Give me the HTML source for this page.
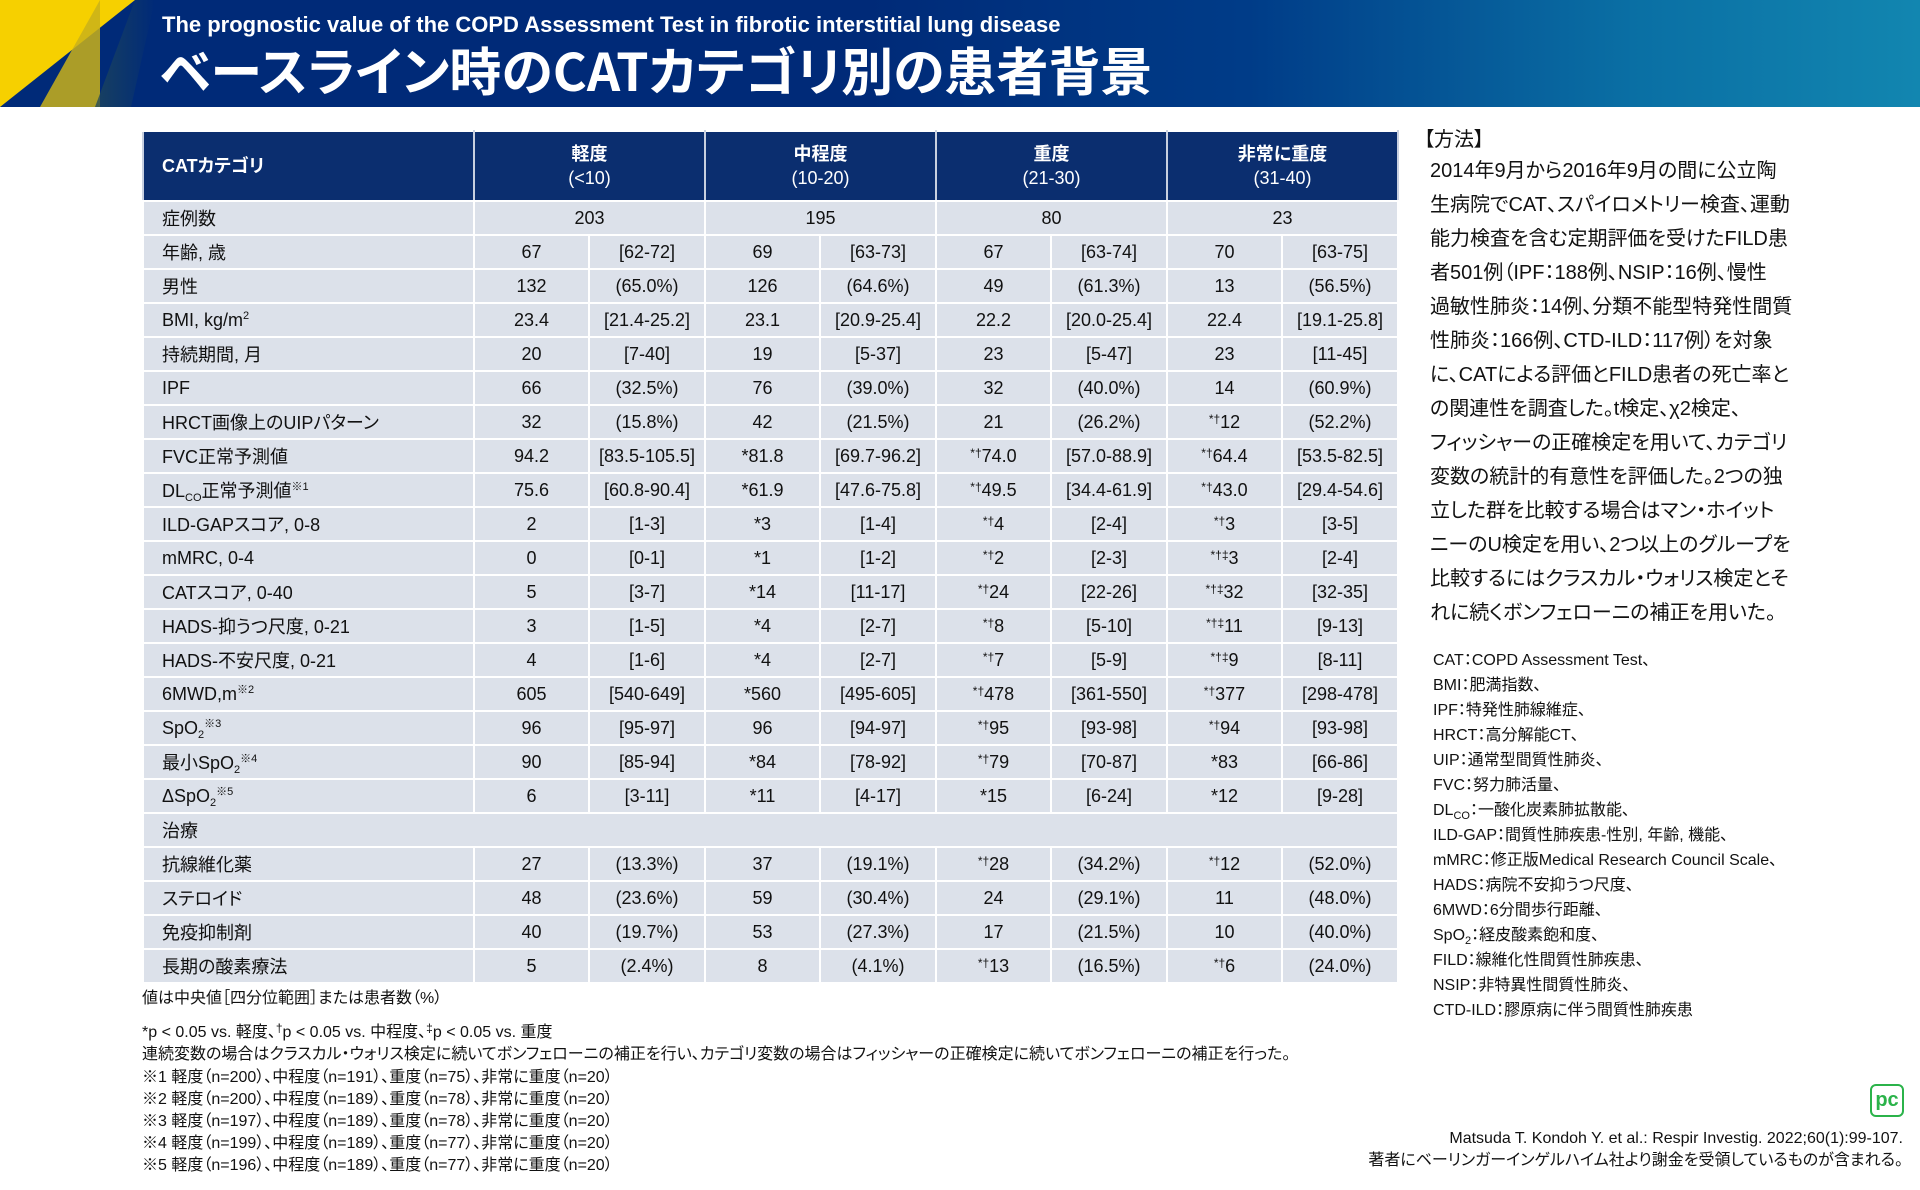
<!DOCTYPE html>
<html><head><meta charset="utf-8">
<style>
*{margin:0;padding:0;box-sizing:border-box}
body{width:1920px;height:1190px;position:relative;overflow:hidden;background:#fff;font-family:"Liberation Sans","Noto Sans CJK JP",sans-serif;color:#111;font-feature-settings:"palt"}
#hdr{position:absolute;left:0;top:0;width:1920px;height:107px;background:linear-gradient(90deg,#002a78 0%,#002a78 45%,#003c88 65%,#0a6fa4 85%,#1286b0 100%);overflow:hidden}
#hdr .y1{position:absolute;left:0;top:0;width:0;height:0;border-top:107px solid #f6d000;border-right:135px solid transparent}
#hdr .y2{position:absolute;left:40px;top:0;width:0;height:0;border-bottom:107px solid #c9b21a;border-left:60px solid transparent;opacity:.85}
#hdr .y3{position:absolute;left:95px;top:0;width:60px;height:107px;background:linear-gradient(90deg,rgba(30,70,90,.8),rgba(0,42,120,0));clip-path:polygon(40px 0,100% 0,60% 100%,0 100%)}
.t1{position:absolute;left:162px;top:12px;color:#fff;font-weight:bold;font-size:22px;white-space:nowrap}
.t2{position:absolute;left:160px;top:39px;color:#fff;font-weight:bold;font-size:52px;line-height:60px;white-space:nowrap;font-family:"Noto Sans CJK JP","Liberation Sans",sans-serif}
table{position:absolute;left:142px;top:130px;border-collapse:collapse;table-layout:fixed;width:1255px}
td,th{border:2px solid #fff;height:34px;font-size:18px;text-align:center;background:#dce1ea;white-space:nowrap;padding:0}
th{background:#0b2e6f;color:#fff;height:70px;font-weight:normal;line-height:24px;border-color:#fff #c8d0e0}
th b{font-weight:bold}
td.l,th.l{text-align:left;padding-left:18px}
td.tr{text-align:left;padding-left:18px}
.m{font-size:12px;vertical-align:5px;line-height:0}
sub{font-size:11px;vertical-align:-4px;line-height:0}
sup{font-size:11px;vertical-align:7px;line-height:0}
.fn{position:absolute;left:142px;font-size:16px;white-space:nowrap;line-height:20px}
.rp{position:absolute;left:1430px;font-size:20px;white-space:nowrap;line-height:34px}
.ab{position:absolute;left:1433px;top:648px;font-size:16px;line-height:25px;white-space:nowrap}
.cit{position:absolute;right:17px;font-size:16px;white-space:nowrap;line-height:22px;text-align:right}
.pc{position:absolute;left:1870px;top:1084px;width:34px;height:33px;border:2px solid #2bb34a;border-radius:6px;color:#2bb34a;font-weight:bold;font-size:20px;line-height:28px;text-align:center}
</style></head><body>
<div id="hdr"><div class="y1"></div><div class="y2"></div><div class="y3"></div>
<div class="t1">The prognostic value of the COPD Assessment Test in fibrotic interstitial lung disease</div>
<div class="t2">ベースライン時のCATカテゴリ別の患者背景</div></div>

<table>
<colgroup><col style="width:331px"><col style="width:115px"><col style="width:116px"><col style="width:115px"><col style="width:116px"><col style="width:115px"><col style="width:116px"><col style="width:115px"><col style="width:116px"></colgroup>
<tr><th class="l"><b>CATカテゴリ</b></th><th colspan="2"><b>軽度</b><br>(&lt;10)</th><th colspan="2"><b>中程度</b><br>(10-20)</th><th colspan="2"><b>重度</b><br>(21-30)</th><th colspan="2"><b>非常に重度</b><br>(31-40)</th></tr>
<tr><td class="l">症例数</td><td colspan="2">203</td><td colspan="2">195</td><td colspan="2">80</td><td colspan="2">23</td></tr>
<tr><td class="l">年齢, 歳</td><td>67</td><td>[62-72]</td><td>69</td><td>[63-73]</td><td>67</td><td>[63-74]</td><td>70</td><td>[63-75]</td></tr>
<tr><td class="l">男性</td><td>132</td><td>(65.0%)</td><td>126</td><td>(64.6%)</td><td>49</td><td>(61.3%)</td><td>13</td><td>(56.5%)</td></tr>
<tr><td class="l">BMI, kg/m<sup>2</sup></td><td>23.4</td><td>[21.4-25.2]</td><td>23.1</td><td>[20.9-25.4]</td><td>22.2</td><td>[20.0-25.4]</td><td>22.4</td><td>[19.1-25.8]</td></tr>
<tr><td class="l">持続期間, 月</td><td>20</td><td>[7-40]</td><td>19</td><td>[5-37]</td><td>23</td><td>[5-47]</td><td>23</td><td>[11-45]</td></tr>
<tr><td class="l">IPF</td><td>66</td><td>(32.5%)</td><td>76</td><td>(39.0%)</td><td>32</td><td>(40.0%)</td><td>14</td><td>(60.9%)</td></tr>
<tr><td class="l">HRCT画像上のUIPパターン</td><td>32</td><td>(15.8%)</td><td>42</td><td>(21.5%)</td><td>21</td><td>(26.2%)</td><td><span class="m">*†</span>12</td><td>(52.2%)</td></tr>
<tr><td class="l">FVC正常予測値</td><td>94.2</td><td>[83.5-105.5]</td><td>*81.8</td><td>[69.7-96.2]</td><td><span class="m">*†</span>74.0</td><td>[57.0-88.9]</td><td><span class="m">*†</span>64.4</td><td>[53.5-82.5]</td></tr>
<tr><td class="l">DL<sub>CO</sub>正常予測値<sup>※1</sup></td><td>75.6</td><td>[60.8-90.4]</td><td>*61.9</td><td>[47.6-75.8]</td><td><span class="m">*†</span>49.5</td><td>[34.4-61.9]</td><td><span class="m">*†</span>43.0</td><td>[29.4-54.6]</td></tr>
<tr><td class="l">ILD-GAPスコア, 0-8</td><td>2</td><td>[1-3]</td><td>*3</td><td>[1-4]</td><td><span class="m">*†</span>4</td><td>[2-4]</td><td><span class="m">*†</span>3</td><td>[3-5]</td></tr>
<tr><td class="l">mMRC, 0-4</td><td>0</td><td>[0-1]</td><td>*1</td><td>[1-2]</td><td><span class="m">*†</span>2</td><td>[2-3]</td><td><span class="m">*†‡</span>3</td><td>[2-4]</td></tr>
<tr><td class="l">CATスコア, 0-40</td><td>5</td><td>[3-7]</td><td>*14</td><td>[11-17]</td><td><span class="m">*†</span>24</td><td>[22-26]</td><td><span class="m">*†‡</span>32</td><td>[32-35]</td></tr>
<tr><td class="l">HADS-抑うつ尺度, 0-21</td><td>3</td><td>[1-5]</td><td>*4</td><td>[2-7]</td><td><span class="m">*†</span>8</td><td>[5-10]</td><td><span class="m">*†‡</span>11</td><td>[9-13]</td></tr>
<tr><td class="l">HADS-不安尺度, 0-21</td><td>4</td><td>[1-6]</td><td>*4</td><td>[2-7]</td><td><span class="m">*†</span>7</td><td>[5-9]</td><td><span class="m">*†‡</span>9</td><td>[8-11]</td></tr>
<tr><td class="l">6MWD,m<sup>※2</sup></td><td>605</td><td>[540-649]</td><td>*560</td><td>[495-605]</td><td><span class="m">*†</span>478</td><td>[361-550]</td><td><span class="m">*†</span>377</td><td>[298-478]</td></tr>
<tr><td class="l">SpO<sub>2</sub><sup>※3</sup></td><td>96</td><td>[95-97]</td><td>96</td><td>[94-97]</td><td><span class="m">*†</span>95</td><td>[93-98]</td><td><span class="m">*†</span>94</td><td>[93-98]</td></tr>
<tr><td class="l">最小SpO<sub>2</sub><sup>※4</sup></td><td>90</td><td>[85-94]</td><td>*84</td><td>[78-92]</td><td><span class="m">*†</span>79</td><td>[70-87]</td><td>*83</td><td>[66-86]</td></tr>
<tr><td class="l">ΔSpO<sub>2</sub><sup>※5</sup></td><td>6</td><td>[3-11]</td><td>*11</td><td>[4-17]</td><td>*15</td><td>[6-24]</td><td>*12</td><td>[9-28]</td></tr>
<tr><td class="tr" colspan="9">治療</td></tr>
<tr><td class="l">抗線維化薬</td><td>27</td><td>(13.3%)</td><td>37</td><td>(19.1%)</td><td><span class="m">*†</span>28</td><td>(34.2%)</td><td><span class="m">*†</span>12</td><td>(52.0%)</td></tr>
<tr><td class="l">ステロイド</td><td>48</td><td>(23.6%)</td><td>59</td><td>(30.4%)</td><td>24</td><td>(29.1%)</td><td>11</td><td>(48.0%)</td></tr>
<tr><td class="l">免疫抑制剤</td><td>40</td><td>(19.7%)</td><td>53</td><td>(27.3%)</td><td>17</td><td>(21.5%)</td><td>10</td><td>(40.0%)</td></tr>
<tr><td class="l">長期の酸素療法</td><td>5</td><td>(2.4%)</td><td>8</td><td>(4.1%)</td><td><span class="m">*†</span>13</td><td>(16.5%)</td><td><span class="m">*†</span>6</td><td>(24.0%)</td></tr>
</table>

<div class="fn" style="top:989px">値は中央値［四分位範囲］または患者数（%）</div>
<div class="fn" style="top:1023px">*p &lt; 0.05 vs. 軽度、<span class="m">†</span>p &lt; 0.05 vs. 中程度、<span class="m">‡</span>p &lt; 0.05 vs. 重度</div>
<div class="fn" style="top:1045px">連続変数の場合はクラスカル・ウォリス検定に続いてボンフェローニの補正を行い、カテゴリ変数の場合はフィッシャーの正確検定に続いてボンフェローニの補正を行った。</div>
<div class="fn" style="top:1068px">※1 軽度（n=200）、中程度（n=191）、重度（n=75）、非常に重度（n=20）</div>
<div class="fn" style="top:1090px">※2 軽度（n=200）、中程度（n=189）、重度（n=78）、非常に重度（n=20）</div>
<div class="fn" style="top:1112px">※3 軽度（n=197）、中程度（n=189）、重度（n=78）、非常に重度（n=20）</div>
<div class="fn" style="top:1134px">※4 軽度（n=199）、中程度（n=189）、重度（n=77）、非常に重度（n=20）</div>
<div class="fn" style="top:1156px">※5 軽度（n=196）、中程度（n=189）、重度（n=77）、非常に重度（n=20）</div>

<div class="rp" style="top:123px;left:1424px">【方法】</div>
<div class="rp" style="top:154px">2014年9月から2016年9月の間に公立陶<br>生病院でCAT、スパイロメトリー検査、運動<br>能力検査を含む定期評価を受けたFILD患<br>者501例（IPF：188例、NSIP：16例、慢性<br>過敏性肺炎：14例、分類不能型特発性間質<br>性肺炎：166例、CTD-ILD：117例）を対象<br>に、CATによる評価とFILD患者の死亡率と<br>の関連性を調査した。t検定、χ2検定、<br>フィッシャーの正確検定を用いて、カテゴリ<br>変数の統計的有意性を評価した。2つの独<br>立した群を比較する場合はマン・ホイット<br>ニーのU検定を用い、2つ以上のグループを<br>比較するにはクラスカル・ウォリス検定とそ<br>れに続くボンフェローニの補正を用いた。</div>

<div class="ab">CAT：COPD Assessment Test、<br>BMI：肥満指数、<br>IPF：特発性肺線維症、<br>HRCT：高分解能CT、<br>UIP：通常型間質性肺炎、<br>FVC：努力肺活量、<br>DL<sub>CO</sub>：一酸化炭素肺拡散能、<br>ILD-GAP：間質性肺疾患-性別, 年齢, 機能、<br>mMRC：修正版Medical Research Council Scale、<br>HADS：病院不安抑うつ尺度、<br>6MWD：6分間歩行距離、<br>SpO<sub>2</sub>：経皮酸素飽和度、<br>FILD：線維化性間質性肺疾患、<br>NSIP：非特異性間質性肺炎、<br>CTD-ILD：膠原病に伴う間質性肺疾患</div>

<div class="pc">pc</div>
<div class="cit" style="top:1128px">Matsuda T. Kondoh Y. et al.: Respir Investig. 2022;60(1):99-107.</div>
<div class="cit" style="top:1150px">著者にベーリンガーインゲルハイム社より謝金を受領しているものが含まれる。</div>
</body></html>
